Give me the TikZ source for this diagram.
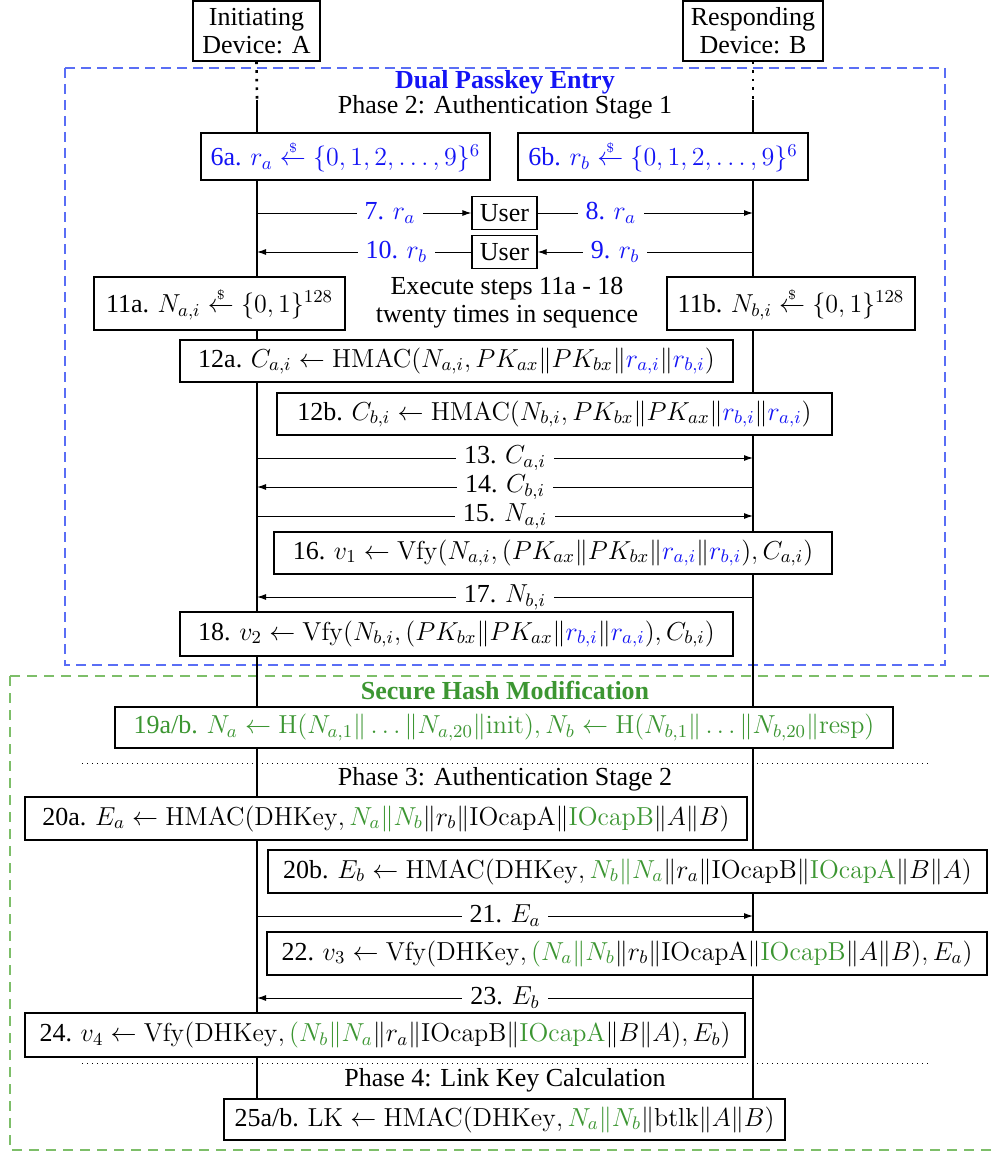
\documentclass[tikz,border=0pt]{standalone}
\usepackage{fix-cm}
\usepackage{amsmath}
\usepackage[no-math]{fontspec}
\setmainfont{Liberation Serif}
\usetikzlibrary{arrows.meta}
\definecolor{pblue}{RGB}{20,20,245}
\definecolor{pgreen}{RGB}{60,150,50}
\definecolor{fblue}{RGB}{90,110,245}
\definecolor{fgreen}{RGB}{125,190,105}
\newcommand{\blu}[1]{{\color{pblue}#1}}
\newcommand{\grn}[1]{{\color{pgreen}#1}}
\newcommand{\rnd}{\mathrel{\overset{\raisebox{-1.2pt}{$\scriptscriptstyle\$$}}{\leftarrow}}}
\tikzset{
  box/.style={draw, fill=white, line width=0.6pt, inner xsep=3pt, inner ysep=2pt, align=center},
  msg/.style={line width=0.5pt, -{Latex[length=4.5pt,width=3pt]}},
  lab/.style={fill=white, inner xsep=4pt, inner ysep=2pt},
  life/.style={line width=1.3pt},
  lifedot/.style={line width=1.3pt, dash pattern=on 1.3pt off 3pt},
  sep/.style={line width=0.5pt, dotted},
  bframe/.style={draw=fblue, line width=0.6pt, dash pattern=on 5pt off 3pt},
  gframe/.style={draw=fgreen, line width=0.6pt, dash pattern=on 5pt off 3.5pt},
}
\begin{document}
\begin{tikzpicture}[x=0.5pt,y=-0.5pt, font=\fontsize{13}{15}\selectfont]
\clip (0,0) rectangle (994,1156);
% frames
\draw[bframe] (65,68) rectangle (945,665);
\draw[gframe] (10,676) rectangle (1020,1150);
% devices
\node[box, minimum width=63.5pt, minimum height=30pt] (devA) at (256.5,31) {Initiating\\[-1pt]Device: A};
\node[box, minimum width=70pt, minimum height=30pt] (devB) at (753,31) {Responding\\[-1pt]Device: B};
\coordinate (Atop) at (257,100);
\coordinate (Btop) at (753,100);
\coordinate (Abot) at (257,1100);
\coordinate (Bbot) at (753,1100);
\draw[lifedot] (devA.south) -- (Atop);
\draw[lifedot] (devB.south) -- (Btop);
\draw[life] (Atop) -- (Abot);
\draw[life] (Btop) -- (Bbot);
% titles
\node[text=pblue, font=\fontsize{13}{15}\selectfont\bfseries] (t1) at (505,82) {Dual Passkey Entry};
\node (t2) at (505,107) {Phase 2: Authentication Stage 1};
% step 6
\node[box, text=pblue, minimum width=144.5pt, minimum height=23.5pt] (s6a) at (345.5,156.5) {6a. $r_a \rnd \{0,1,2,\ldots,9\}^6$};
\node[box, text=pblue, minimum width=145pt, minimum height=23.5pt] (s6b) at (663,156.5) {6b. $r_b \rnd \{0,1,2,\ldots,9\}^6$};
% user
\node[box, minimum width=32.5pt, minimum height=16.5pt, inner ysep=1pt] (u1) at (504.5,213) {User};
\node[box, minimum width=32.5pt, minimum height=16.5pt, inner ysep=1pt] (u2) at (504.5,252) {User};
\coordinate (A7) at (257,213);
\coordinate (B8) at (753,213);
\coordinate (A10) at (257,252);
\coordinate (B9) at (753,252);
\draw[msg] (A7) -- node[lab, text=pblue, pos=0.62] {7. $r_a$} (u1.west);
\draw[msg] (u1.east) -- node[lab, text=pblue, pos=0.34] {8. $r_a$} (B8);
\draw[msg] (B9) -- node[lab, text=pblue, pos=0.64] {9. $r_b$} (u2.east);
\draw[msg] (u2.west) -- node[lab, text=pblue, pos=0.35] {10. $r_b$} (A10);
% step 11
\node[box, minimum width=125.5pt, minimum height=26.5pt] (s11a) at (219.5,303.5) {11a. $N_{a,i} \rnd \{0,1\}^{128}$};
\node[align=center] (exec) at (507,303) {Execute steps 11a - 18\\[-1pt]twenty times in sequence};
\node[box, minimum width=124pt, minimum height=26.5pt] (s11b) at (791,303.5) {11b. $N_{b,i} \rnd \{0,1\}^{128}$};
% step 12
\node[box, minimum width=276.5pt, minimum height=21pt] (s12a) at (456.5,361) {12a. $C_{a,i} \leftarrow \mathrm{HMAC}(N_{a,i}, PK_{ax}\|PK_{bx}\|\blu{r_{a,i}}\|\blu{r_{b,i}})$};
\node[box, minimum width=277.5pt, minimum height=21pt] (s12b) at (554.5,414) {12b. $C_{b,i} \leftarrow \mathrm{HMAC}(N_{b,i}, PK_{bx}\|PK_{ax}\|\blu{r_{b,i}}\|\blu{r_{a,i}})$};
% 13-15
\coordinate (A13) at (257,458); \coordinate (B13) at (753,458);
\coordinate (A14) at (257,487); \coordinate (B14) at (753,487);
\coordinate (A15) at (257,516); \coordinate (B15) at (753,516);
\draw[msg] (A13) -- node[lab] {13. $C_{a,i}$} (B13);
\draw[msg] (B14) -- node[lab] {14. $C_{b,i}$} (A14);
\draw[msg] (A15) -- node[lab] {15. $N_{a,i}$} (B15);
\node[box, minimum width=279pt, minimum height=21pt] (s16) at (553,553) {16. $v_1 \leftarrow \mathrm{Vfy}(N_{a,i}, (PK_{ax}\|PK_{bx}\|\blu{r_{a,i}}\|\blu{r_{b,i}}), C_{a,i})$};
\coordinate (A17) at (257,597); \coordinate (B17) at (753,597);
\draw[msg] (B17) -- node[lab] {17. $N_{b,i}$} (A17);
\node[box, minimum width=276.5pt, minimum height=22pt] (s18) at (456.5,634) {18. $v_2 \leftarrow \mathrm{Vfy}(N_{b,i}, (PK_{bx}\|PK_{ax}\|\blu{r_{b,i}}\|\blu{r_{a,i}}), C_{b,i})$};
% secure hash
\node[text=pgreen, font=\fontsize{13}{15}\selectfont\bfseries] (t3) at (505,690) {Secure Hash Modification};
\node[box, text=pgreen, minimum width=389pt, minimum height=20.5pt] (s19) at (504,727.5) {19a/b. $N_a \leftarrow \mathrm{H}(N_{a,1}\|\ldots\|N_{a,20}\|\mathrm{init}), N_b \leftarrow \mathrm{H}(N_{b,1}\|\ldots\|N_{b,20}\|\mathrm{resp})$};
\coordinate (d1l) at (82,763); \coordinate (d1r) at (930,763);
\draw[sep] (d1l) -- (d1r);
\node (t4) at (505,779) {Phase 3: Authentication Stage 2};
\node[box, minimum width=361pt, minimum height=21.5pt] (s20a) at (386,818.5) {20a. $E_a \leftarrow \mathrm{HMAC}(\mathrm{DHKey}, \grn{N_a\|N_b}\|r_b\|\mathrm{IOcapA}\|\grn{\mathrm{IOcapB}}\|A\|B)$};
\node[box, minimum width=359.5pt, minimum height=21.5pt] (s20b) at (627.5,871.5) {20b. $E_b \leftarrow \mathrm{HMAC}(\mathrm{DHKey}, \grn{N_b\|N_a}\|r_a\|\mathrm{IOcapB}\|\grn{\mathrm{IOcapA}}\|B\|A)$};
\coordinate (A21) at (257,916); \coordinate (B21) at (753,916);
\draw[msg] (A21) -- node[lab] {21. $E_a$} (B21);
\node[box, minimum width=360pt, minimum height=21.5pt] (s22) at (627,953.5) {22. $v_3 \leftarrow \mathrm{Vfy}(\mathrm{DHKey}, \grn{(N_a\|N_b}\|r_b\|\mathrm{IOcapA}\|\grn{\mathrm{IOcapB}}\|A\|B), E_a)$};
\coordinate (A23) at (257,998); \coordinate (B23) at (753,998);
\draw[msg] (B23) -- node[lab] {23. $E_b$} (A23);
\node[box, minimum width=360pt, minimum height=22pt] (s24) at (385,1035) {24. $v_4 \leftarrow \mathrm{Vfy}(\mathrm{DHKey}, \grn{(N_b\|N_a}\|r_a\|\mathrm{IOcapB}\|\grn{\mathrm{IOcapA}}\|B\|A), E_b)$};
\coordinate (d2l) at (82,1063); \coordinate (d2r) at (930,1063);
\draw[sep] (d2l) -- (d2r);
\node (t5) at (505,1080) {Phase 4: Link Key Calculation};
\node[box, minimum width=280.5pt, minimum height=20.5pt] (s25) at (504.5,1119.5) {25a/b. $\mathrm{LK} \leftarrow \mathrm{HMAC}(\mathrm{DHKey}, \grn{N_a\|N_b}\|\mathrm{btlk}\|A\|B)$};
\end{tikzpicture}
\end{document}
